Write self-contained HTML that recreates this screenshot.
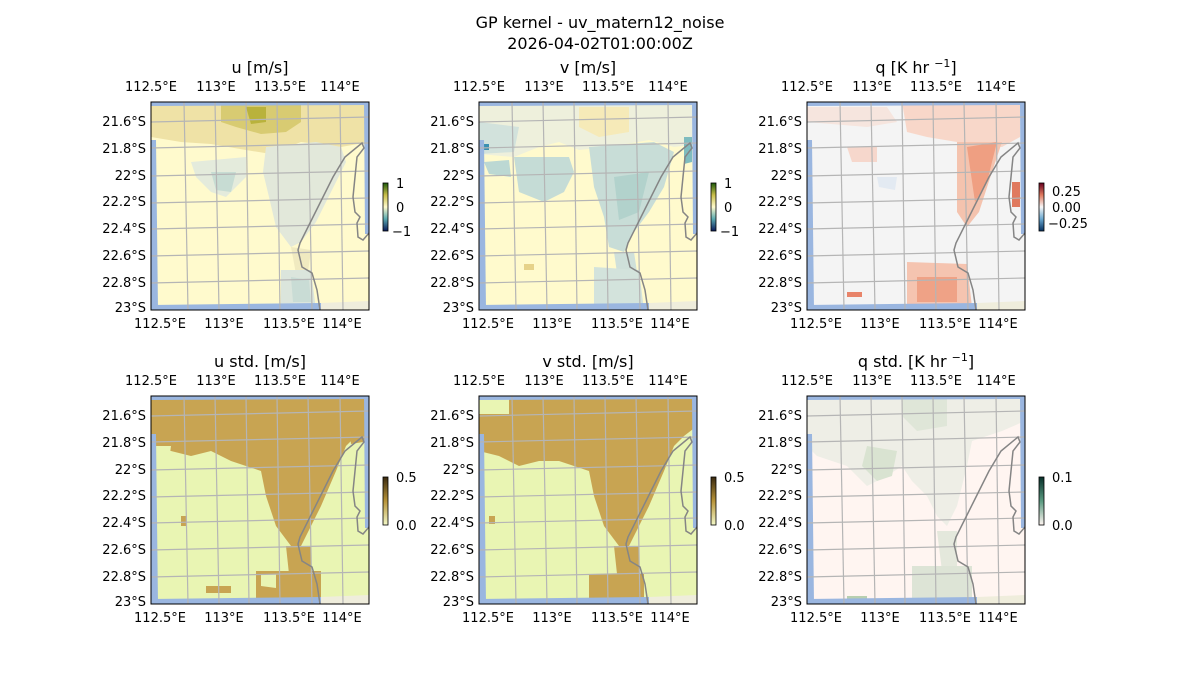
<!DOCTYPE html>
<html><head><meta charset="utf-8"><style>
body{margin:0;background:#fff;}
svg{display:block;font-family:"DejaVu Sans","Liberation Sans",sans-serif;}
.t{font-size:13px;fill:#000;}
.h{font-size:16px;fill:#000;}
</style></head><body>
<svg width="1200" height="700" viewBox="0 0 1200 700">
<defs>
<clipPath id="pc"><rect x="0" y="0" width="218" height="208"/></clipPath>
<g id="frame">
  <polygon points="0,38 5,38 7,208 0,208" fill="#9ab6e0"/>
  <polygon points="0,0 218,0 218,3 0,4" fill="#9ab6e0"/>
  <polygon points="213,0 218,0 218,132 214,132" fill="#9ab6e0"/>
  <polygon points="0,203 170,201 170,208 0,208" fill="#9ab6e0"/>
  <polygon points="170,201 218,199 218,208 170,208" fill="#efeddc"/>
</g>
<g id="grid" fill="none" stroke="#b5b5b5" stroke-width="1.2">
  <line x1="33" y1="0" x2="37" y2="208"/><line x1="64" y1="0" x2="68" y2="208"/>
  <line x1="95" y1="0" x2="98" y2="208"/><line x1="126" y1="0" x2="129" y2="208"/>
  <line x1="157" y1="0" x2="161" y2="208"/><line x1="189" y1="0" x2="192" y2="208"/>
  <line x1="0" y1="20" x2="218" y2="15"/><line x1="0" y1="46" x2="218" y2="41"/>
  <line x1="0" y1="74" x2="218" y2="69"/><line x1="0" y1="101" x2="218" y2="96"/>
  <line x1="0" y1="127" x2="218" y2="122"/><line x1="0" y1="154" x2="218" y2="149"/>
  <line x1="0" y1="181" x2="218" y2="176"/>
  <path d="M169,208 L166,188 L161,171 L151,165 L147,148 L149,141 L159,121 L169,101 L182,75 L194,55 L211,41 L213,46 L206,55 L204,75 L202,95 L204,110 L209,115 L206,121 L207,135 L212,138 L218,131" stroke="#858585" stroke-width="1.5"/>
</g>
</defs>

<text x="600" y="28" text-anchor="middle" class="h">GP kernel - uv_matern12_noise</text>
<text x="600" y="49" text-anchor="middle" class="h">2026-04-02T01:00:00Z</text>

<g transform="translate(151,102)">
  <g clip-path="url(#pc)">
  <rect width="218" height="208" fill="#fffacd"/>
  <polygon points="0,0 218,0 218,40 190,45 150,40 120,52 95,48 60,42 30,40 0,35" fill="#efe2a6"/>
  <polygon points="70,0 150,0 150,20 135,30 110,32 85,25 70,20" fill="#d8cb72"/>
  <polygon points="95,5 115,5 115,20 100,22" fill="#b9b23c"/>
  <polygon points="115,45 165,40 190,45 195,60 180,90 165,120 150,140 140,145 125,125 118,95 112,70" fill="#e2e8da"/>
  <polygon points="40,60 95,55 95,75 75,95 60,90 45,75" fill="#e4ebdc"/>
  <polygon points="60,70 85,70 80,90 65,88" fill="#c7dcd3"/>
  <polygon points="140,145 160,148 157,170 145,172" fill="#f0eac0"/>
  <polygon points="130,168 160,168 165,208 130,208" fill="#dbe5dc"/>
  <polygon points="140,175 158,178 160,200 142,200" fill="#c9dcd5"/>
  <use href="#frame"/>
  <use href="#grid"/>
  </g>
  <rect width="218" height="208" fill="none" stroke="#000" stroke-width="1"/>
</g>
<g transform="translate(479,102)">
  <g clip-path="url(#pc)">
  <rect width="218" height="208" fill="#fffacd"/>
  <polygon points="0,0 218,0 218,42 195,45 170,38 130,45 100,48 80,40 60,45 35,55 0,52" fill="#eef0dc"/>
  <polygon points="100,5 150,5 150,30 120,35 100,25" fill="#f6eab8"/>
  <polygon points="0,20 40,25 35,50 0,52" fill="#d2e2dc"/>
  <polygon points="5,60 30,58 32,75 10,72" fill="#bcd8d3"/>
  <polygon points="35,55 90,55 95,70 85,90 65,100 40,90" fill="#c5dcd6"/>
  <polygon points="110,45 175,40 195,50 185,85 170,110 155,130 145,150 130,145 125,115 115,85" fill="#c8ddd7"/>
  <polygon points="135,75 170,70 160,110 140,118" fill="#b2d2cc"/>
  <polygon points="135,150 155,150 158,170 140,185" fill="#cfe0da"/>
  <polygon points="115,165 160,168 165,208 115,208" fill="#d3e3dc"/>
  <polygon points="205,35 213,35 213,60 205,62" fill="#7fbcbf"/>
  <polygon points="3,42 10,42 10,48 3,48" fill="#3a8fb0"/>
  <polygon points="45,162 55,162 55,168 45,168" fill="#e6d28a"/>
  <use href="#frame"/>
  <use href="#grid"/>
  </g>
  <rect width="218" height="208" fill="none" stroke="#000" stroke-width="1"/>
</g>
<g transform="translate(807,102)">
  <g clip-path="url(#pc)">
  <rect width="218" height="208" fill="#f4f4f4"/>
  <polygon points="95,0 213,0 213,35 195,45 150,40 120,35 100,30" fill="#f8d7c9"/>
  <polygon points="0,5 80,5 90,20 60,25 0,20" fill="#f6e5de"/>
  <polygon points="40,45 70,45 70,60 45,60" fill="#f6d7cc"/>
  <polygon points="150,40 195,40 185,70 172,110 160,125 150,110" fill="#f4c3ae"/>
  <polygon points="160,45 190,40 180,80 168,100" fill="#ef9f82"/>
  <polygon points="205,80 213,80 213,105 205,105" fill="#e07a5f"/>
  <polygon points="100,160 160,162 165,205 100,205" fill="#f5c4b0"/>
  <polygon points="110,175 150,175 150,200 110,200" fill="#efa286"/>
  <polygon points="40,190 55,190 55,195 40,195" fill="#e8846a"/>
  <polygon points="70,75 90,75 88,88 72,85" fill="#e3eaf2"/>
  <use href="#frame"/>
  <use href="#grid"/>
  </g>
  <rect width="218" height="208" fill="none" stroke="#000" stroke-width="1"/>
</g>
<g transform="translate(151,396)">
  <g clip-path="url(#pc)">
  <rect width="218" height="208" fill="#e9f5b3"/>
  <polygon points="0,0 218,0 218,30 205,40 195,50 185,75 170,110 160,130 150,150 140,150 125,130 115,100 110,75 95,70 80,65 60,55 40,60 20,55 0,50" fill="#c8a452"/>
  <polygon points="195,10 218,10 218,45 200,48" fill="#c8a452"/>
  <polygon points="135,150 160,150 160,178 138,178" fill="#c8a452"/>
  <polygon points="105,175 170,175 170,208 105,208" fill="#c8a452"/>
  <polygon points="110,178 125,178 125,192 110,190" fill="#e9f5b3"/>
  <polygon points="0,50 20,50 18,65 0,62" fill="#e9f5b3"/>
  <polygon points="55,190 80,190 80,197 55,197" fill="#c8a452"/>
  <polygon points="30,120 36,120 36,130 30,130" fill="#c8a452"/>
  <use href="#frame"/>
  <use href="#grid"/>
  </g>
  <rect width="218" height="208" fill="none" stroke="#000" stroke-width="1"/>
</g>
<g transform="translate(479,396)">
  <g clip-path="url(#pc)">
  <rect width="218" height="208" fill="#e9f5b3"/>
  <polygon points="0,0 218,0 218,30 205,40 195,50 185,75 170,110 160,130 150,150 140,150 125,130 115,100 110,75 95,70 80,65 60,65 40,70 20,60 0,55" fill="#c8a452"/>
  <polygon points="135,150 160,150 160,178 138,178" fill="#c8a452"/>
  <polygon points="110,178 165,178 165,208 110,208" fill="#c8a452"/>
  <polygon points="0,0 30,0 30,18 0,18" fill="#e9f5b3"/>
  <polygon points="10,120 16,120 16,128 10,128" fill="#c8a452"/>
  <use href="#frame"/>
  <use href="#grid"/>
  </g>
  <rect width="218" height="208" fill="none" stroke="#000" stroke-width="1"/>
</g>
<g transform="translate(807,396)">
  <g clip-path="url(#pc)">
  <rect width="218" height="208" fill="#fff5f1"/>
  <polygon points="0,0 218,0 218,25 195,35 165,45 160,70 150,110 140,130 130,120 120,100 105,85 95,70 80,80 60,90 40,70 10,60 0,50" fill="#eeeee6"/>
  <polygon points="95,0 140,0 140,30 110,35 95,20" fill="#dfe6d8"/>
  <polygon points="60,50 90,55 85,80 70,85 55,70" fill="#d9e3d1"/>
  <polygon points="130,135 150,135 150,175 135,175" fill="#e4e8dc"/>
  <polygon points="105,170 165,170 165,205 105,205" fill="#dde4d6"/>
  <polygon points="40,200 60,200 60,205 40,205" fill="#b8cfb0"/>
  <use href="#frame"/>
  <use href="#grid"/>
  </g>
  <rect width="218" height="208" fill="none" stroke="#000" stroke-width="1"/>
</g>

<text x="260" y="73" text-anchor="middle" class="h">u [m/s]</text>
<text x="588" y="73" text-anchor="middle" class="h">v [m/s]</text>
<text x="916" y="73" text-anchor="middle" class="h">q [K hr <tspan font-size="11" dy="-6">−1</tspan><tspan dy="6">]</tspan></text>
<text x="260" y="367" text-anchor="middle" class="h">u std. [m/s]</text>
<text x="588" y="367" text-anchor="middle" class="h">v std. [m/s]</text>
<text x="916" y="367" text-anchor="middle" class="h">q std. [K hr <tspan font-size="11" dy="-6">−1</tspan><tspan dy="6">]</tspan></text>

<g id="ax1" class="t">
  <g text-anchor="middle">
    <text x="151" y="91">112.5°E</text><text x="216" y="91">113°E</text><text x="280" y="91">113.5°E</text><text x="340" y="91">114°E</text>
    <text x="160" y="328">112.5°E</text><text x="224" y="328">113°E</text><text x="289" y="328">113.5°E</text><text x="342" y="328">114°E</text>
  </g>
  <g text-anchor="end">
    <text x="146" y="126">21.6°S</text><text x="146" y="153">21.8°S</text><text x="146" y="180">22°S</text><text x="146" y="206">22.2°S</text>
    <text x="146" y="233">22.4°S</text><text x="146" y="260">22.6°S</text><text x="146" y="287">22.8°S</text><text x="146" y="312">23°S</text>
  </g>
</g>
<use href="#ax1" x="328"/>
<use href="#ax1" x="656"/>
<use href="#ax1" y="294"/>
<use href="#ax1" x="328" y="294"/>
<use href="#ax1" x="656" y="294"/>

<linearGradient id="gu" x1="0" y1="0" x2="0" y2="1">
  <stop offset="0" stop-color="#1d5a0a"/><stop offset="0.25" stop-color="#c9be4a"/><stop offset="0.5" stop-color="#fffacd"/><stop offset="0.75" stop-color="#5aa9b0"/><stop offset="1" stop-color="#0a1a5a"/>
</linearGradient>
<linearGradient id="gq" x1="0" y1="0" x2="0" y2="1">
  <stop offset="0" stop-color="#67001f"/><stop offset="0.25" stop-color="#e07a5f"/><stop offset="0.5" stop-color="#f7f7f7"/><stop offset="0.75" stop-color="#6aa8d0"/><stop offset="1" stop-color="#053061"/>
</linearGradient>
<linearGradient id="gs" x1="0" y1="0" x2="0" y2="1">
  <stop offset="0" stop-color="#3a2a10"/><stop offset="0.5" stop-color="#b8943a"/><stop offset="1" stop-color="#f3f8c8"/>
</linearGradient>
<linearGradient id="gqs" x1="0" y1="0" x2="0" y2="1">
  <stop offset="0" stop-color="#08302a"/><stop offset="0.5" stop-color="#5a9a80"/><stop offset="1" stop-color="#fff5f1"/>
</linearGradient>
<g class="t">
  <rect x="383" y="183" width="5" height="48" fill="url(#gu)" stroke="#000" stroke-width="0.8"/>
  <text x="396" y="188">1</text><text x="396" y="212">0</text><text x="392" y="236">−1</text>
  <rect x="711" y="183" width="5" height="48" fill="url(#gu)" stroke="#000" stroke-width="0.8"/>
  <text x="724" y="188">1</text><text x="724" y="212">0</text><text x="720" y="236">−1</text>
  <rect x="1039" y="183" width="5" height="48" fill="url(#gq)" stroke="#000" stroke-width="0.8"/>
  <text x="1052" y="196">0.25</text><text x="1052" y="212">0.00</text><text x="1048" y="228">−0.25</text>
  <rect x="383" y="477" width="5" height="48" fill="url(#gs)" stroke="#000" stroke-width="0.8"/>
  <text x="396" y="482">0.5</text><text x="396" y="530">0.0</text>
  <rect x="711" y="477" width="5" height="48" fill="url(#gs)" stroke="#000" stroke-width="0.8"/>
  <text x="724" y="482">0.5</text><text x="724" y="530">0.0</text>
  <rect x="1039" y="477" width="5" height="48" fill="url(#gqs)" stroke="#000" stroke-width="0.8"/>
  <text x="1052" y="482">0.1</text><text x="1052" y="530">0.0</text>
</g>
</svg>
</body></html>
